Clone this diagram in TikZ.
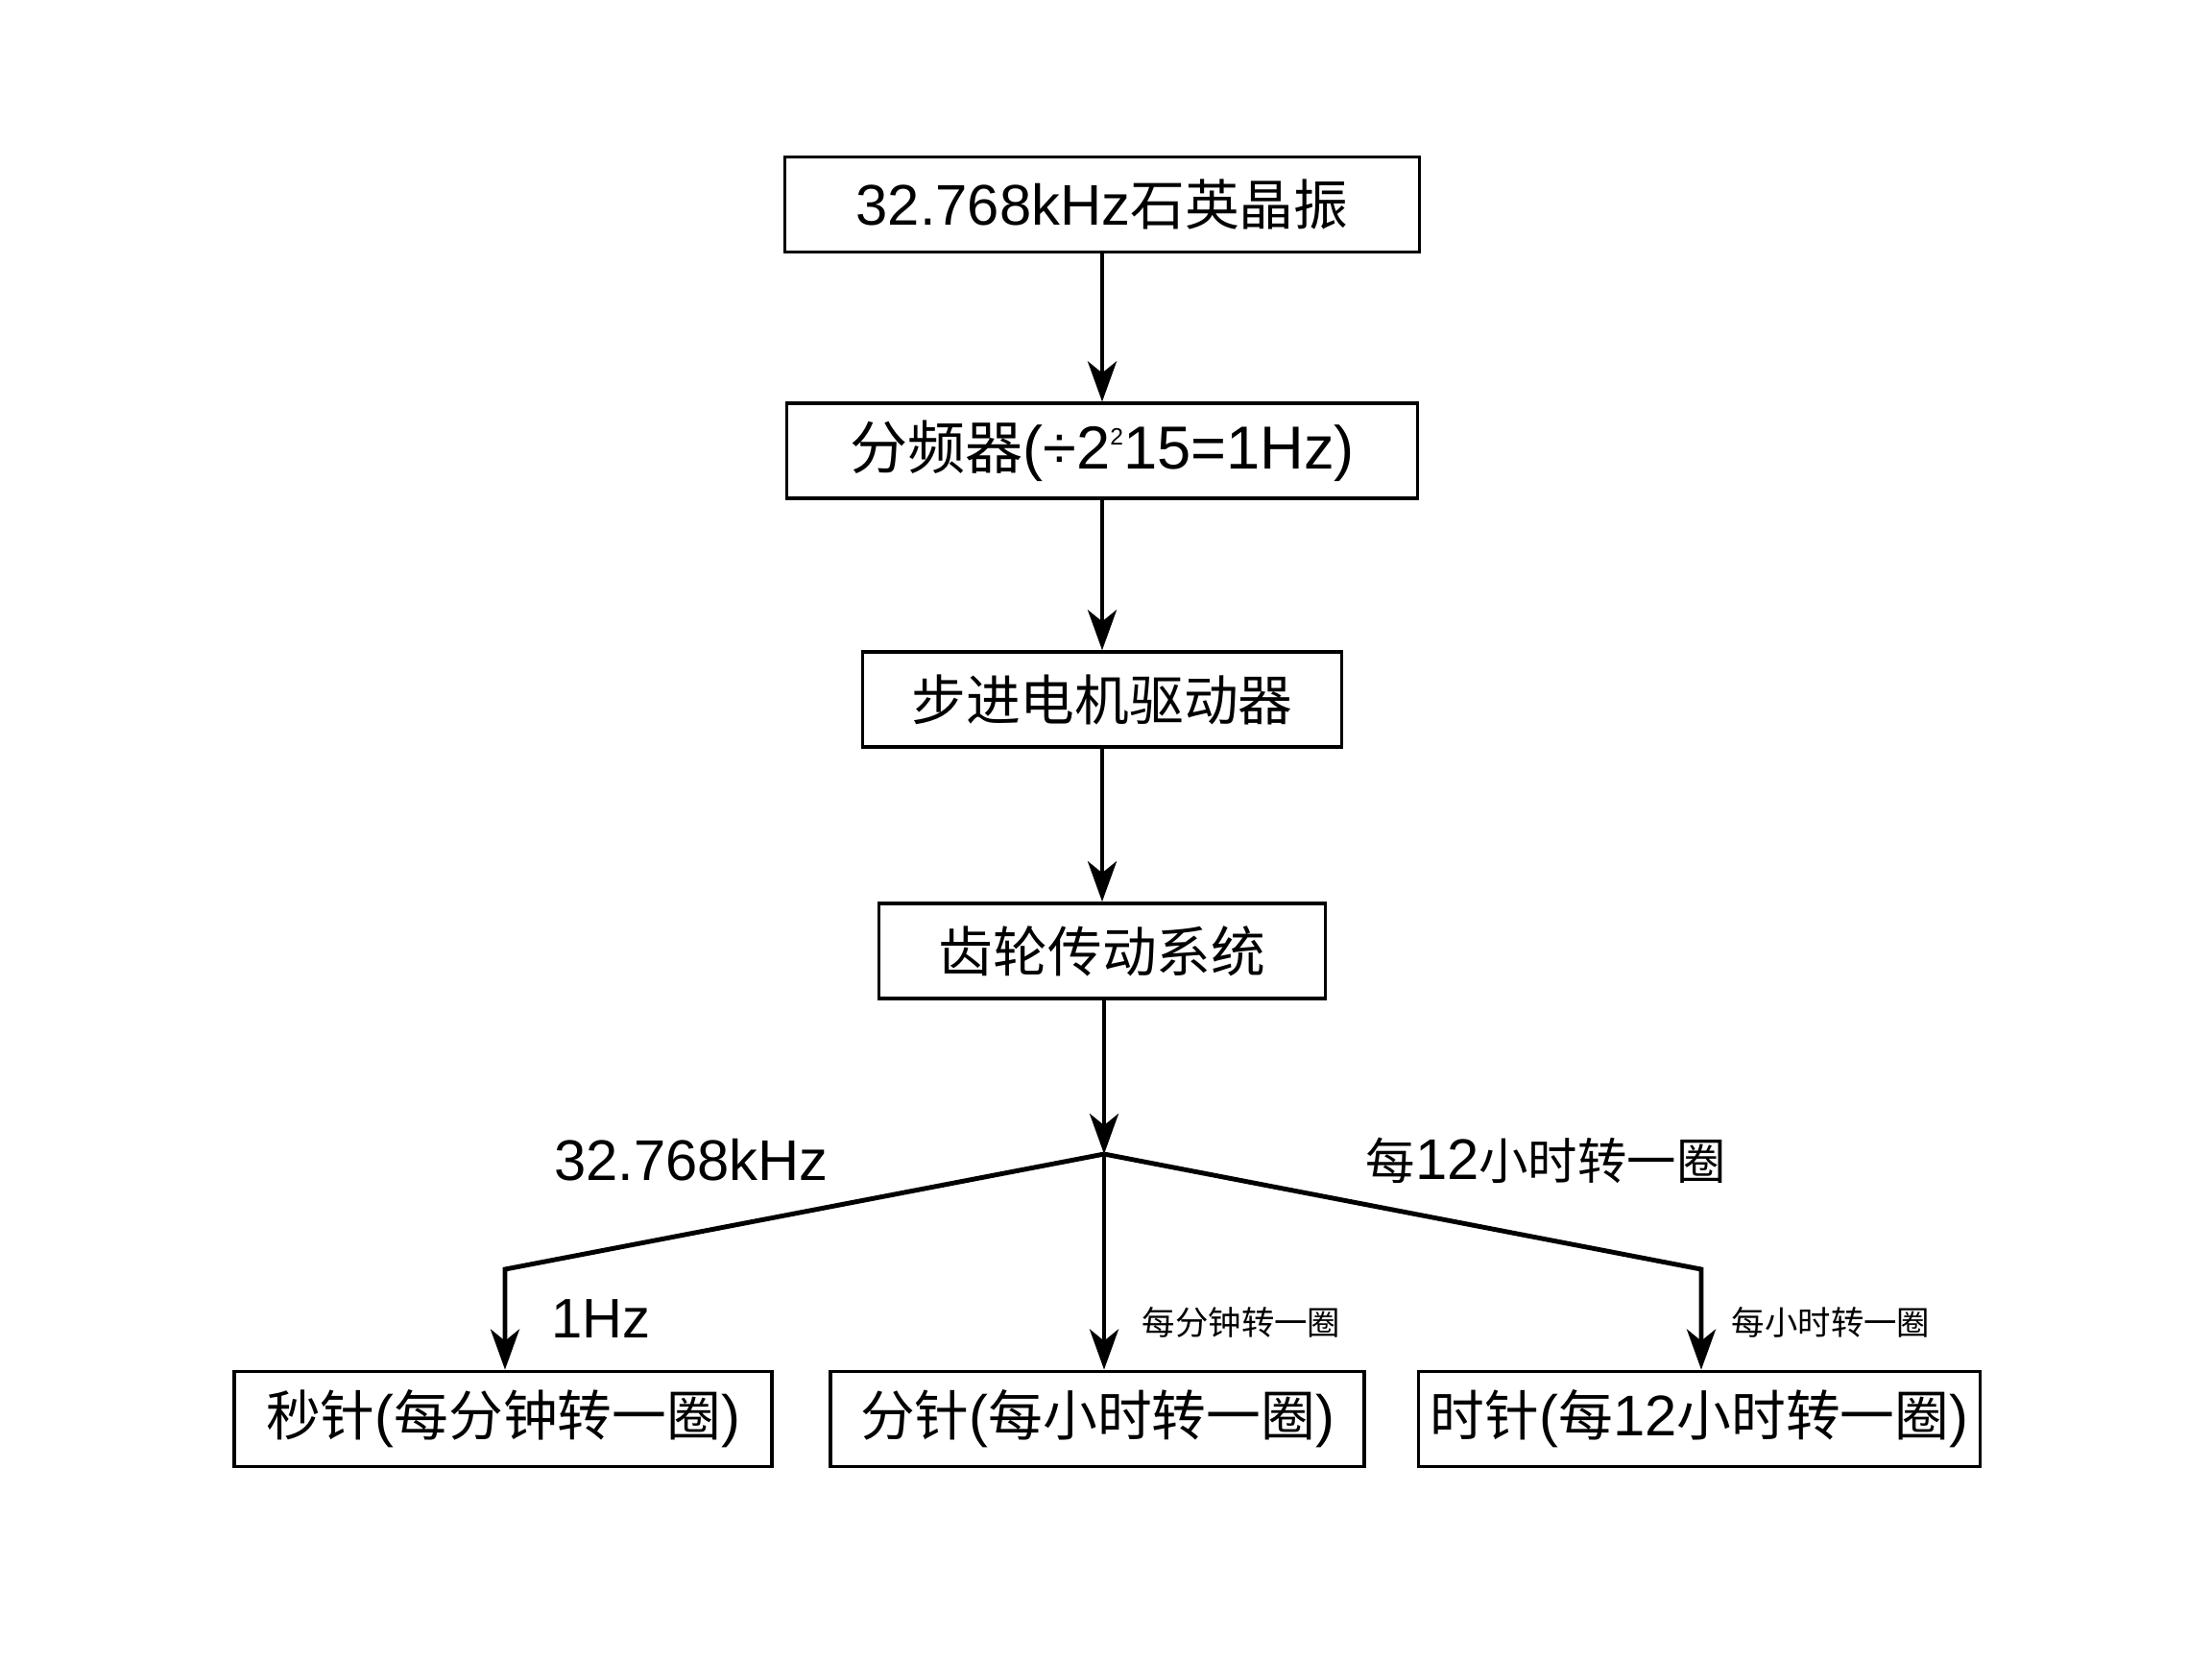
\documentclass[tikz,border=0pt]{standalone}
\usepackage{fontspec}
\setmainfont{Liberation Sans}
\newfontfamily\cjk[Scale=0.95]{Noto Sans CJK SC}
\newfontfamily\cjknarrow[Scale=0.86]{Noto Sans CJK SC}
\usetikzlibrary{positioning, arrows.meta, calc}

\begin{document}
\begin{tikzpicture}[
      every node/.style={font=\fontsize{17}{20}\selectfont, align=center, inner sep=2pt},
      block/.style={draw, line width=1.1pt, minimum height=9.9mm},
      arrow/.style={-{Stealth[length=4.2mm, width=3.0mm, inset=1.2mm]}, line width=1.4pt},
      small/.style={font=\fontsize{10.3}{12}\selectfont},
      mid/.style={font=\fontsize{16.5}{19}\selectfont},
  ]
    \useasboundingbox (0,0) rectangle (23.04,-17.28);

    %% --- main chain, top to bottom ---
    \node[block, minimum width=6.61cm] (xtal) at (11.48,-2.13) {32.768kHz{\cjk 石英晶振}};
    \node[block, minimum width=6.57cm, below=1.54cm of xtal, font=\fontsize{18}{20}\selectfont] (div)
      {{\cjk 分频器}(÷2\raisebox{.75ex}{\fontsize{7}{7}\selectfont 2}15=1Hz)};
    \node[block, minimum width=4.99cm, below=1.56cm of div]  (driver) {\cjk 步进电机驱动器};
    \node[block, minimum width=4.65cm, below=1.59cm of driver] (gear) {\cjk 齿轮传动系统};

    %% --- branch points ---
    \coordinate (fork)  at (11.50,-12.02);
    \coordinate (lturn) at (5.26,-13.22);
    \coordinate (rturn) at (17.72,-13.22);

    %% --- three hands ---
    \node[block, minimum width=5.60cm] (sec)  at (5.24,-14.78)  {{\cjk 秒针}({\cjk 每分钟转一圈})};
    \node[block, minimum width=5.56cm] (min)  at (11.43,-14.78) {{\cjk 分针}({\cjk 每小时转一圈})};
    \node[block, minimum width=5.85cm] (hour) at (17.70,-14.78) {{\cjk 时针}({\cjk 每}12{\cjk 小时转一圈})};

    \draw[arrow] (xtal) -- (div);
    \draw[arrow] (div) -- (driver);
    \draw[arrow] (driver) -- (gear);
    \draw[arrow] (gear.south -| fork) -- (fork);

    \draw[arrow] (fork) -- (lturn) -- (lturn |- sec.north);
    \draw[arrow] (fork) -- (fork |- min.north);
    \draw[arrow] (fork) -- (rturn) -- (rturn |- hour.north);

    %% --- labels ---
    \node (lblkhz)  at (7.20,-12.08)  {32.768kHz};
    \node (lbl12h)  at (16.10,-12.09) {{\cjknarrow 每}12{\cjknarrow 小时转一圈}};
    \node[mid] (lblhz) at (6.26,-13.74) {1Hz};
    \node[small] (lblmin) at (12.93,-13.77) {\cjk 每分钟转一圈};
    \node[small] (lblhr)  at (19.07,-13.77) {\cjk 每小时转一圈};
  \end{tikzpicture}
\end{document}
